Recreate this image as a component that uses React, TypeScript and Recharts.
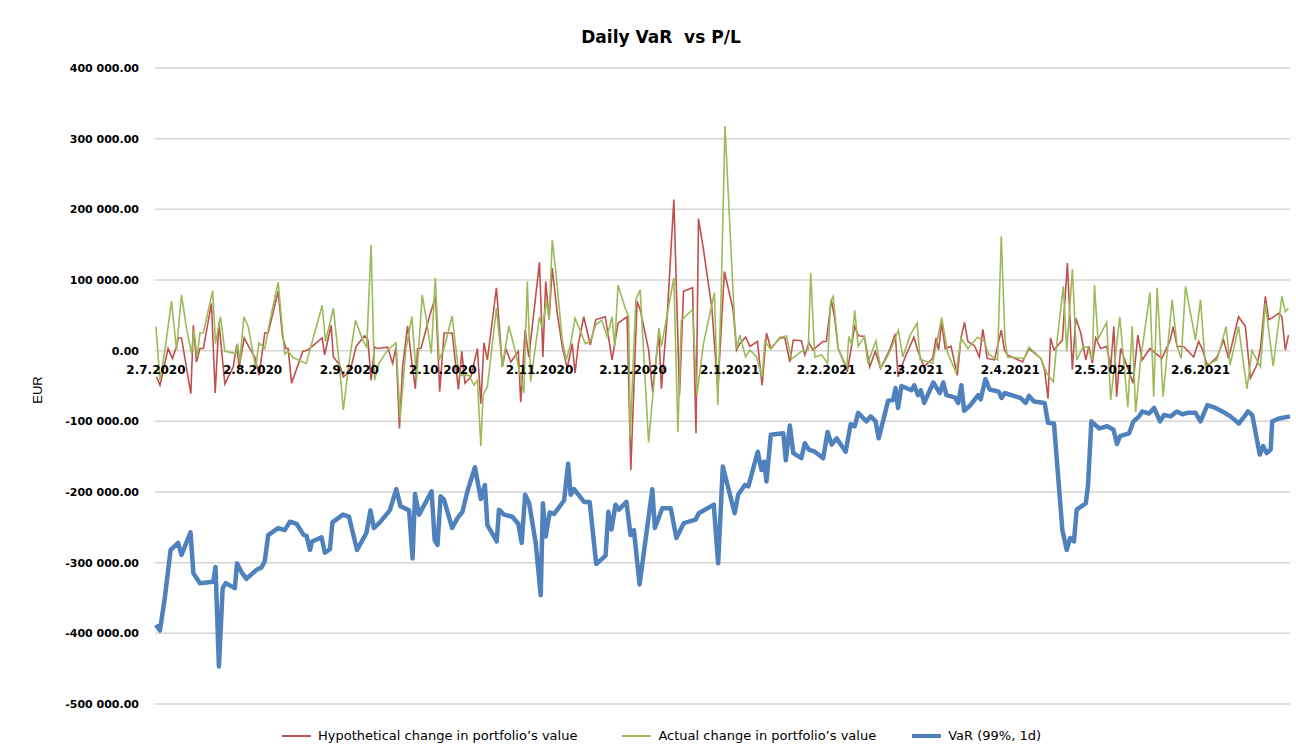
import React from "react"
import { CartesianGrid, Line, LineChart, ReferenceDot, XAxis, YAxis } from "recharts"

// x = days since 2.7.2020, y = thousands of EUR
const hypotheticalPoints: [number, number][] = [
  [0.2, -37], [1.3, -49], [3.9, 3], [5.3, -11], [6.6, 6], [7.2, 18], [8.2, 18], [11.2, -61], [12, 36], [13, -16],
  [14.1, 3], [15.2, 3], [17.8, 67], [19, -60], [20.2, 40], [22.1, -47], [24.8, -23], [25.9, 8], [26.7, -23], [28.3, 18],
  [30.1, 3], [31.7, -9], [33.1, -35], [34.9, 25], [36, 25], [39.2, 84], [40.6, 20], [41.7, 3], [42.4, 3], [43.5, -46],
  [47.1, -1], [48.7, 1], [53.3, 18], [54.1, -6], [56.2, 36], [56.9, -9], [58.9, -20], [60.1, -37], [61.5, -32], [62.6, -23],
  [64.2, 6], [66.9, 21], [68, 15], [69, -42], [70.1, 5], [71.1, 3], [74.3, 5], [75.9, -18], [77, 5], [78.1, -110],
  [79.1, -23], [80.7, 35], [82.1, -18], [83.2, -54], [83.9, 3], [85, 3], [87.7, 48], [89.7, 77], [91, -58], [92.4, 25],
  [95, 25], [97, -55], [98.1, -1], [99.1, -46], [101, -37], [103.1, 3], [104.2, -75], [105.2, 11], [106.3, -13], [109.2, 89],
  [111.1, -23], [112.2, 3], [113.8, -16], [116.2, -1], [117, -73], [118.4, 29], [119.6, -9], [123, 125], [124.1, -9], [125, 98],
  [126.1, 44], [127.1, 117], [128.7, 53], [130.3, 6], [131.9, -25], [133.5, 10], [134.4, -32], [135.5, 10], [137.2, 48], [139.3, 8],
  [141.1, 44], [144.1, 48], [146.3, -13], [148.2, 39], [151.1, 48], [152.3, -169], [154.3, 70], [155.3, 58], [158, 1], [159.3, -58],
  [161.3, 25], [162.1, -54], [163.9, 44], [166.1, 214], [167.9, -63], [169.2, 84], [172.1, 89], [173.2, -117], [174, 187], [175.6, 143],
  [178.3, 60], [180.2, -56], [182.3, 112], [185.1, 58], [186.2, 1], [187.3, 10], [189.1, 19], [190.5, 6], [192.9, 13], [194.4, -49],
  [195.8, 25], [197.2, 3], [200.1, 18], [201.7, 18], [203.3, -16], [204.4, 15], [207, 14], [208.1, -6], [209.4, 11], [210.7, 1],
  [213.9, 13], [215, 13], [216.6, 72], [217.6, 48], [218.8, 3], [220.7, -16], [221.7, -30], [222.8, -1], [224.1, 34], [225.4, 21],
  [227.2, 20], [228.9, -23], [230.7, -1], [232.4, -25], [235.3, 1], [237.1, 24], [238, -37], [240.3, -9], [243.1, 19], [244.1, 3],
  [246.3, -23], [249.1, -11], [250.2, 18], [251, 1], [252, 40], [253.1, 3], [255, 6], [257, -35], [258.2, 18], [259.3, 40],
  [260.4, 13], [262.5, 7], [264.1, -9], [265.2, 30], [266.6, -11], [268.9, -13], [271.1, 29], [272.1, 1], [273.1, -6], [277.9, -16],
  [280, 3], [283.8, -11], [285, -27], [286.1, -68], [286.9, 18], [288, 1], [290.7, 15], [292.3, 124], [293.9, -27], [295, 46],
  [296.6, 25], [298.2, -13], [299.2, 6], [300.3, -18], [301.4, 18], [303, 3], [304.9, 6], [306.2, -23], [307.2, 34], [308.1, -65],
  [309.4, 3], [313.4, -46], [314.9, 22], [316.3, -13], [318.8, 3], [322.6, -11], [325.3, 15], [326.2, 34], [327.5, 6], [329.6, 6],
  [332.8, -9], [334.4, 13], [335.5, 3], [337.1, -20], [338.1, -18], [340.3, -9], [342.4, 15], [344, -11], [347.2, 48], [349.4, 34],
  [351, -39], [353.1, -20], [354.2, 2], [355.8, 77], [356.9, 44], [357.9, 46], [360.1, 53], [361.1, 48], [362.2, 1], [363.2, 22],
]

const actualPoints: [number, number][] = [
  [0, 34], [1.3, -42], [2.9, 1], [5, 70], [6.6, 1], [8.2, 79], [9.8, 32], [11.4, -4], [12.2, 29], [13.2, -9],
  [14.1, 25], [15.2, 25], [18.2, 85], [19.1, 10], [20.7, 48], [22.1, -1], [25.6, -4], [26.2, 10], [26.9, -16], [28.2, 48],
  [29.6, 34], [32, -25], [33, 11], [34.9, 3], [36.5, 41], [39.2, 97], [41.3, -5], [42.4, -1], [43.8, -9], [45.5, -13],
  [48.2, -18], [53.3, 64], [54.4, 13], [56.9, 60], [58.9, -23], [60.1, -84], [61.9, -18], [64, 43], [66.3, 15], [67.6, 5],
  [69, 150], [70.1, -42], [71.5, -18], [74.3, 1], [77, 11], [78.3, -96], [80.2, 3], [82.1, 48], [83.6, -42], [85.4, 79],
  [86.9, 40], [88.3, -4], [89.6, 103], [90.8, -13], [92.4, 3], [95, 49], [97, -27], [98.1, -35], [100.4, -35], [102, -49],
  [103.1, -42], [104.2, -135], [104.9, -63], [106.3, -51], [109.2, 60], [111.1, -23], [113.2, 35], [115.4, -4], [118, -60], [119.1, 98],
  [120.2, -44], [123, 48], [123.9, 32], [125.2, 70], [126.1, 44], [127.1, 157], [128.4, 105], [130.3, 15], [131.6, -13], [133, 10],
  [134.4, 46], [135.5, 34], [137.7, 10], [139.3, 13], [141.1, 37], [143, 43], [144.7, 20], [146.3, 48], [147.1, 6], [148.2, 93],
  [150.5, 60], [151.6, 48], [152.1, -122], [153.9, 72], [155.3, 86], [158, -130], [161.3, 32], [162.1, 6], [166.1, 103], [167.4, -115],
  [168.5, 43], [172.1, 58], [173.5, -63], [175.6, 10], [179.1, 82], [180.2, -77], [181.3, 86], [182.5, 318], [185.5, 46], [186.2, 3],
  [187.3, 22], [189.1, -9], [190.5, 1], [192.6, -9], [194.4, -37], [195.3, 13], [197.2, 2], [200.1, 19], [202.2, 21], [203.8, -12],
  [207, -1], [209.2, 1], [210, 110], [211.3, -9], [213.5, -6], [215.4, -18], [216.4, 70], [217.2, 77], [218.8, 3], [221.5, -27],
  [222.2, 20], [223.1, 8], [224.1, 57], [225.2, 6], [227.2, 20], [228.3, -18], [230.9, 14], [232.4, -25], [234.5, -9], [235.8, 3],
  [238.1, 29], [239.5, -9], [241.9, 22], [244.1, 39], [245.1, -13], [246.3, -14], [249.1, -18], [252, 47], [254, -4], [256.6, -31],
  [258.2, 18], [260.4, 3], [263.5, 19], [265.7, 13], [267, -5], [269.9, -13], [271.1, 162], [272.3, 15], [273.1, -9], [278.4, -11],
  [280, 5], [283.8, -11], [285.7, -32], [287.8, -44], [288.9, 10], [291, 91], [292.1, -1], [293.9, 115], [295.3, -13], [297.4, 6],
  [298.7, 5], [300.3, -13], [301, 93], [302.1, 16], [304.9, 40], [306.2, -70], [309.1, 48], [311.7, -80], [313.1, 35], [314.2, -87],
  [315.8, -13], [318.8, 82], [320, -65], [321.1, 89], [323, -65], [325.9, 72], [327.5, 6], [328.8, -11], [330.2, 91], [333.4, 15],
  [335, 72], [336.6, -23], [338.1, -18], [340.3, -13], [343.2, 34], [344.5, -20], [347.2, 34], [349.9, -54], [351.5, 0], [354.2, -23],
  [355.8, 67], [358.3, -22], [361.1, 77], [362.2, 55], [363.2, 60],
]

const varPoints: [number, number][] = [
  [0, -388], [1.3, -396], [2.9, -348], [4.7, -282], [7.1, -272], [8.2, -289], [11.1, -257], [12, -315], [14.1, -329], [18.4, -327],
  [19.1, -306], [20.2, -447], [21.4, -336], [22.4, -329], [25.3, -336], [26, -301], [27.4, -313], [29, -323], [32.3, -310], [33.8, -307],
  [34.9, -298], [36, -261], [39.2, -251], [41.3, -254], [43, -242], [45.1, -245], [47.4, -261], [48.3, -262], [49.4, -282], [50.1, -270],
  [53.1, -264], [54.2, -286], [55.8, -281], [56.6, -243], [60, -232], [61.9, -235], [64.5, -282], [67.5, -258], [68.8, -226], [69.9, -251],
  [71.8, -243], [75, -226], [77.1, -196], [78.4, -220], [81.2, -226], [82.3, -294], [83.1, -203], [84.4, -232], [88.4, -199], [89.4, -268],
  [90.3, -275], [91.3, -206], [92.4, -211], [95, -251], [96.7, -237], [98.3, -228], [99.9, -199], [102.3, -165], [104.2, -210], [105.5, -190],
  [106.3, -247], [109.3, -270], [110, -225], [111.6, -232], [114.3, -235], [116.2, -245], [117.3, -272], [118.4, -204], [119.7, -216], [121.8, -272],
  [123.4, -346], [124.1, -216], [125, -263], [126.3, -229], [127.7, -231], [130.9, -212], [132.2, -160], [133, -204], [134.1, -196], [137.3, -214],
  [139.1, -214], [141.2, -302], [144.2, -290], [145.1, -228], [146.1, -253], [147.4, -218], [148.5, -225], [150.9, -214], [152.2, -261], [153.3, -254],
  [155.1, -331], [159.2, -196], [160, -251], [162.4, -223], [165.1, -223], [166.9, -265], [169.3, -244], [170.9, -242], [173.1, -239], [174.1, -230],
  [178.9, -218], [180.3, -301], [181.8, -164], [185.6, -230], [186.7, -204], [188.9, -190], [190, -192], [193, -143], [194.2, -169], [195.1, -157],
  [195.8, -185], [197.2, -119], [201.2, -117], [202, -155], [203.3, -106], [204.4, -145], [207, -152], [208.1, -131], [209.4, -140], [211.3, -143],
  [214, -152], [215.4, -115], [216.7, -133], [218.3, -124], [221.2, -143], [222.8, -104], [224.1, -107], [225.2, -88], [227.9, -100], [229.2, -93],
  [230.8, -100], [231.8, -124], [234.8, -71], [236.4, -70], [237.2, -53], [238, -81], [239.1, -50], [242.3, -56], [243.2, -49], [244.4, -63],
  [245.3, -56], [246.4, -74], [249.3, -45], [251.4, -60], [252.5, -45], [253.5, -63], [256.2, -66], [257.3, -74], [258.3, -49], [259.2, -85],
  [261, -78], [263.7, -63], [264.5, -69], [266, -40], [267.4, -55], [270.3, -58], [271.2, -67], [272.2, -60], [273, -61], [277.3, -67],
  [278.9, -74], [280, -64], [281.6, -72], [285, -74], [286.1, -102], [288, -103], [290.7, -254], [292.1, -282], [293.2, -265], [294.4, -270],
  [295.3, -225], [298.2, -216], [298.9, -192], [300, -100], [302.5, -110], [305.1, -107], [307.1, -112], [308.2, -132], [309.2, -121], [312.1, -117],
  [313.5, -100], [315.3, -93], [316.3, -86], [318.5, -89], [320.1, -81], [322, -100], [323.3, -91], [325.4, -93], [327.4, -86], [329.2, -90],
  [330.8, -88], [333.4, -88], [335, -100], [337.2, -77], [339.8, -81], [342, -86], [344.6, -93], [347.3, -103], [349.1, -93], [350.2, -86],
  [351.6, -91], [354, -147], [355.1, -135], [356.2, -145], [357.5, -140], [358, -100], [360.2, -96], [363.7, -93],
]

const dateTicks = [0, 31, 62, 92, 123, 153, 184, 215, 243, 274, 304, 335]
const dateLabels = [
  "2.7.2020", "2.8.2020", "2.9.2020", "2.10.2020", "2.11.2020", "2.12.2020",
  "2.1.2021", "2.2.2021", "2.3.2021", "2.4.2021", "2.5.2021", "2.6.2021",
]
const yTicks = [-500, -400, -300, -200, -100, 0, 100, 200, 300, 400]

const RED = "#C0504D"
const GREEN = "#9BBB59"
const BLUE = "#4F81BD"

function toRows(points: [number, number][]) {
  return points.map(([day, value]) => ({ day, value }))
}

function formatEur(value: number): string {
  if (value === 0) return "0.00"
  return `${value} 000.00`
}

function LegendItem({
  color,
  width,
  label,
  gapAfter,
}: {
  color: string
  width: number
  label: string
  gapAfter: number
}) {
  return (
    <div style={{ display: "flex", alignItems: "center", gap: 7, marginRight: gapAfter }}>
      <div style={{ width: 29, height: width, background: color }} />
      <span>{label}</span>
    </div>
  )
}

export default function App() {
  return (
    <div
      style={{
        position: "absolute",
        left: 0,
        top: 0,
        width: 1296,
        height: 753,
        background: "#FFFFFF",
        fontFamily: "'DejaVu Sans', sans-serif",
      }}
    >
      <div
        style={{
          position: "absolute",
          top: 27,
          left: 0,
          width: 1322,
          textAlign: "center",
          fontWeight: 700,
          fontSize: 17,
          color: "#000",
          whiteSpace: "pre",
        }}
      >
        {"Daily VaR  vs P/L"}
      </div>
      <div
        style={{
          position: "absolute",
          left: 37,
          top: 390,
          transform: "translate(-50%, -50%) rotate(-90deg)",
          fontSize: 13,
          fontFamily: "'Liberation Sans', Arial, sans-serif",
          color: "#000",
        }}
      >
        EUR
      </div>
      <LineChart width={1296} height={753} margin={{ top: 68, right: 6, bottom: 49, left: 0 }}>
        <CartesianGrid vertical={false} stroke="#D6D6D6" strokeWidth={1.5} />
        <XAxis type="number" dataKey="day" domain={[-0.3, 363.7]} hide allowDuplicatedCategory={false} />
        <YAxis
          type="number"
          domain={[-500, 400]}
          ticks={yTicks}
          width={155}
          axisLine={false}
          tickLine={false}
          tickMargin={10}
          tickFormatter={formatEur}
          tick={{ fontSize: 11, fontWeight: 700, fill: "#000", fontFamily: "'DejaVu Sans', sans-serif" }}
        />
        <Line
          data={toRows(hypotheticalPoints)}
          dataKey="value"
          stroke={RED}
          strokeWidth={1.6}
          dot={false}
          type="linear"
          isAnimationActive={false}
        />
        <Line
          data={toRows(actualPoints)}
          dataKey="value"
          stroke={GREEN}
          strokeWidth={1.6}
          dot={false}
          type="linear"
          isAnimationActive={false}
        />
        <Line
          data={toRows(varPoints)}
          dataKey="value"
          stroke={BLUE}
          strokeWidth={4.5}
          strokeLinejoin="round"
          dot={false}
          type="linear"
          isAnimationActive={false}
        />
        {dateTicks.map((day, i) => (
          <ReferenceDot
            key={day}
            x={day}
            y={0}
            r={0}
            fill="none"
            stroke="none"
            label={{
              value: dateLabels[i],
              position: "bottom",
              offset: 15,
              fill: "#000",
              fontSize: 12,
              fontWeight: 700,
              fontFamily: "'DejaVu Sans', sans-serif",
            }}
          />
        ))}
      </LineChart>
      <div
        style={{
          position: "absolute",
          top: 728,
          left: 282,
          display: "flex",
          alignItems: "center",
          fontSize: 13,
          color: "#000",
          whiteSpace: "nowrap",
        }}
      >
        <LegendItem color={RED} width={2} label="Hypothetical change in portfolio’s value" gapAfter={45} />
        <LegendItem color={GREEN} width={2} label="Actual change in portfolio’s value" gapAfter={36} />
        <LegendItem color={BLUE} width={4} label="VaR (99%, 1d)" gapAfter={0} />
      </div>
    </div>
  )
}
